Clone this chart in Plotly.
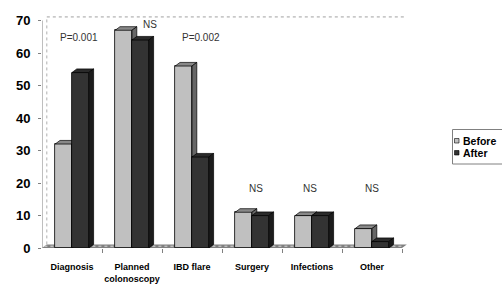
import plotly.graph_objects as go

# ---- data ----
categories = ["Diagnosis", "Planned<br>colonoscopy", "IBD flare", "Surgery", "Infections", "Other"]
before = [32, 67, 56, 11, 10, 6]
after = [54, 64, 28, 10, 10, 2]
series_names = ["Before", "After"]
sig_labels = ["P=0.001", "NS", "P=0.002", "NS", "NS", "NS"]
y_ticks = [0, 10, 20, 30, 40, 50, 60, 70]

# ---- layout constants ----
W, H = 502, 287
ML, MT, MB = 42, 14, 39
XR = [-0.5, 5.6]
YR = [0, 72]
PW = 6.1 * 60
PH = H - MT - MB
MR = W - ML - PW
BW = 0.28          # bar width (category units)
DX, DY = 0.08, 1.1  # 3D depth offsets (data units)
FONT = "Liberation Sans, Arial, sans-serif"

idx = list(range(len(categories)))


def faces(values, offset):
    top_x, top_y, side_x, side_y = [], [], [], []
    for i, v in zip(idx, values):
        xl = i + offset
        xr = xl + BW
        top_x += [xl, xr, xr + DX, xl + DX, xl, None]
        top_y += [v, v, v + DY, v + DY, v, None]
        side_x += [xr, xr + DX, xr + DX, xr, xr, None]
        side_y += [0, DY, v + DY, v, 0, None]
    return top_x, top_y, side_x, side_y


def series_traces(values, offset, front, top, side, name, xa, ya):
    tx, ty, sx, sy = faces(values, offset)
    edge = dict(color="#000000", width=0.7)
    return [
        go.Bar(x=idx, y=values, width=BW, offset=offset, name=name,
               marker=dict(color=front, line=dict(color="#000000", width=0.8)),
               xaxis=xa, yaxis=ya, showlegend=False, hoverinfo="y"),
        go.Scatter(x=tx, y=ty, mode="lines", fill="toself", fillcolor=top, line=edge,
                   xaxis=xa, yaxis=ya, showlegend=False, hoverinfo="skip"),
        go.Scatter(x=sx, y=sy, mode="lines", fill="toself", fillcolor=side, line=edge,
                   xaxis=xa, yaxis=ya, showlegend=False, hoverinfo="skip"),
    ]


traces = []
traces += series_traces(before, -BW, "#c0c0c0", "#888888", "#666666", series_names[0], "x", "y")
traces += series_traces(after, 0.0, "#333333", "#2a2a2a", "#1c1c1c", series_names[1], "x2", "y2")

fig = go.Figure(traces)

# significance annotations (positions are layout choices)
ann_dx = [0.12, 0.3, 0.15, 0.07, -0.03, 0.0]
ann_y = [64.8, 68.8, 64.8, 18.2, 18.2, 18.2]
annotations = []
for i, (t, ox, yy) in enumerate(zip(sig_labels, ann_dx, ann_y)):
    annotations.append(dict(x=i + ox, y=yy, xref="x", yref="y", text=t, showarrow=False,
                            font=dict(family=FONT, size=10, color="#333333")))


def pxx(p):
    return (p - ML) / PW


def pxy(p):
    return (H - MB - p) / PH


# manual legend
leg_colors = ["#c0c0c0", "#333333"]
leg_rows = [140.5, 152.5]
shapes = [
    # floor
    dict(type="path", xref="x", yref="y", layer="below",
         path=f"M -0.5,0 L 5.5,0 L {5.5 + DX},{DY} L {-0.5 + DX},{DY} Z",
         fillcolor="#808080", line=dict(width=0)),
    dict(type="line", xref="x", yref="y", layer="below",
         x0=-0.5 + DX / 2, y0=DY / 2, x1=5.5 + DX / 2, y1=DY / 2,
         line=dict(color="#d8d8d8", width=1, dash="dot")),
    # back wall
    dict(type="line", xref="x", yref="y", layer="below",
         x0=-0.5 + DX, y0=70 + DY, x1=5.5 + DX, y1=70 + DY,
         line=dict(color="#a0a0a0", width=1, dash="dot")),
    dict(type="line", xref="x", yref="y", layer="below",
         x0=-0.5 + DX, y0=DY, x1=-0.5 + DX, y1=70 + DY,
         line=dict(color="#b0b0b0", width=1, dash="dot")),
    # y axis line
    dict(type="line", xref="x", yref="y", x0=-0.5, y0=0, x1=-0.5, y1=70,
         line=dict(color="#808080", width=1)),
    # legend box
    dict(type="rect", xref="paper", yref="paper", x0=pxx(452.5), x1=pxx(505),
         y0=pxy(164), y1=pxy(129.5), line=dict(color="#808080", width=1), fillcolor="white"),
]
for c, ry, nm in zip(leg_colors, leg_rows, series_names):
    shapes.append(dict(type="rect", xref="paper", yref="paper",
                       x0=pxx(454.5), x1=pxx(459), y0=pxy(ry + 2.5), y1=pxy(ry - 2),
                       fillcolor=c, line=dict(color="#000000", width=0.6)))
    annotations.append(dict(x=pxx(460.5), y=pxy(ry), xref="paper", yref="paper", text=f"<b>{nm}</b>",
                            showarrow=False, xanchor="left", yanchor="middle",
                            font=dict(family=FONT, size=10.5, color="#000000")))

fig.update_layout(
    width=W, height=H,
    margin=dict(l=ML, r=MR, t=MT, b=MB, pad=0, autoexpand=False),
    paper_bgcolor="white", plot_bgcolor="white",
    showlegend=False,
    bargap=0,
    xaxis=dict(range=XR, tickmode="array", tickvals=idx, ticktext=[f"<b>{c}</b>" for c in categories],
               ticks="", showgrid=False, zeroline=False, showline=False, automargin=False,
               tickfont=dict(family=FONT, size=9, color="#000000"),
               ticklabelstandoff=12,
               minor=dict(tickmode="array", tickvals=[i + 0.5 for i in idx], ticks="outside",
                          ticklen=4, tickcolor="#808080", showgrid=False)),
    yaxis=dict(range=YR, tickmode="array", tickvals=y_ticks, ticktext=[f"<b>{v}</b>" for v in y_ticks],
               ticks="outside", ticklen=3, tickcolor="#808080", showgrid=False, zeroline=False,
               showline=False, automargin=False, tickfont=dict(family=FONT, size=13, color="#000000"),
               ticklabelstandoff=5),
    xaxis2=dict(range=XR, overlaying="x", anchor="y2", visible=False),
    yaxis2=dict(range=YR, overlaying="y", anchor="x2", visible=False),
    annotations=annotations,
    shapes=shapes,
)

fig.write_html("out.html", config={"displayModeBar": False},
               post_script="document.body.style.margin='0px';document.body.style.overflow='hidden';")
